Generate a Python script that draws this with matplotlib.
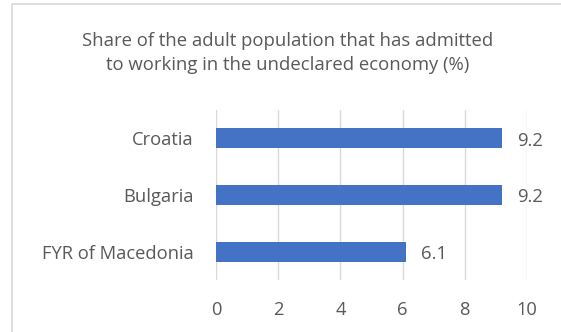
import matplotlib
matplotlib.use('Agg')
import matplotlib.pyplot as plt
from matplotlib.patches import Rectangle

countries = ['FYR of Macedonia', 'Bulgaria', 'Croatia']
shares = [6.1, 9.2, 9.2]
xticks = [0, 2, 4, 6, 8, 10]
title = 'Share of the adult population that has admitted\nto working in the undeclared economy (%)'

txt = '#595959'
plt.rcParams['font.family'] = ['Open Sans', 'DejaVu Sans']

fig = plt.figure(figsize=(5.61, 3.32), dpi=100)
ax = fig.add_axes([216/561, 1 - 280/332, (527 - 216)/561, 170/332])

# chart-area border, runs off the right and bottom edges
fig.patches.append(Rectangle((12/561, -0.1), 1.2, 1 - 4/332 + 0.1,
                             transform=fig.transFigure, fill=False,
                             edgecolor='#d9d9d9', linewidth=1.2))

ypos = range(len(countries))
ax.barh(ypos, shares, height=0.35, color='#4472C4', zorder=3)
for y, v in zip(ypos, shares):
    ax.text(v + 0.48, y - 0.04, f'{v:.1f}', va='center', ha='left',
            fontsize=13.3, color=txt)

ax.set_xlim(0, 10)
ax.set_ylim(-0.5, 2.5)
ax.set_xticks(xticks)
ax.set_yticks(list(ypos))
ax.set_yticklabels(countries)
ax.xaxis.grid(True, color='#d9d9d9', linewidth=1)
ax.tick_params(length=0, labelsize=13.2, colors=txt)
ax.tick_params(axis='x', pad=15)
ax.tick_params(axis='y', pad=16)
for s in ax.spines.values():
    s.set_visible(False)

fig.text(288/561, 1 - 53/332, title, ha='center', va='center', fontsize=13.3,
         color=txt, linespacing=1.45)

fig.savefig('out.png', dpi=100)
